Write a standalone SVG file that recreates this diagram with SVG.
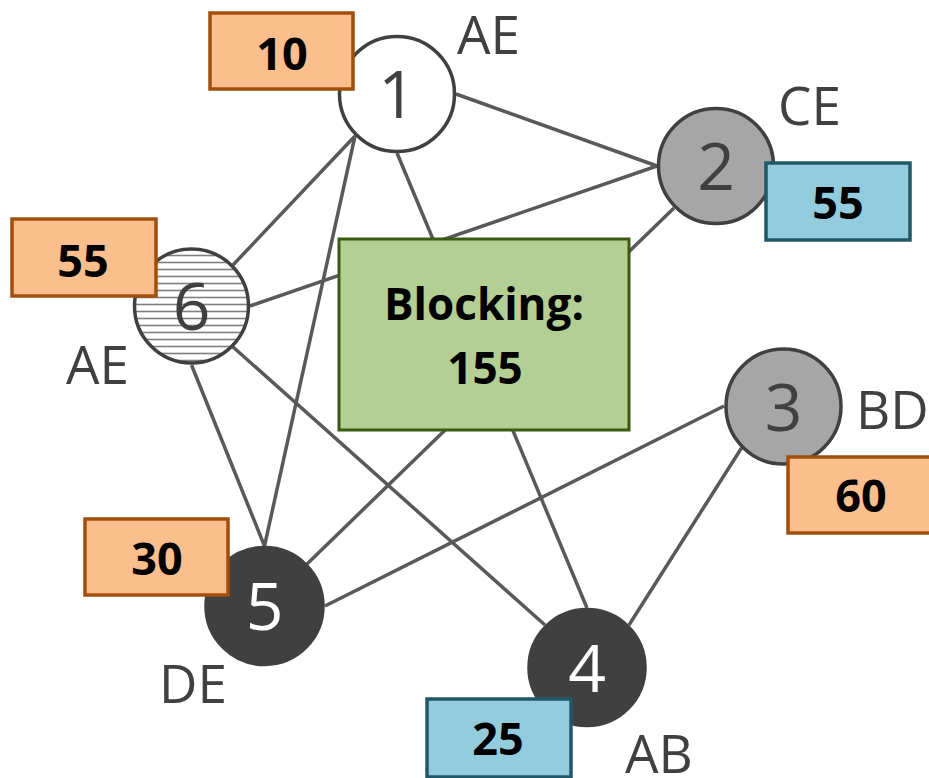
<svg xmlns="http://www.w3.org/2000/svg" width="929" height="778" viewBox="0 0 929 778">
<defs>
<pattern id="hatch" patternUnits="userSpaceOnUse" x="0" y="0" width="10" height="7">
<rect width="10" height="7" fill="#ffffff"/>
<line x1="0" y1="3.5" x2="10" y2="3.5" stroke="#7f7f7f" stroke-width="1.6"/>
</pattern>
<style>
.edge{stroke:#595959;stroke-width:3.5;fill:none}
.node{stroke:#404040;stroke-width:3.5}
.num{font-family:"Open Sans","Noto Sans",sans-serif;font-size:66px;text-anchor:middle}
.lbl{font-family:"Open Sans","Noto Sans",sans-serif;font-size:53px;fill:#404040}
.ob{fill:#fbbf8d;stroke:#a14f0c;stroke-width:3.5}
.bb{fill:#93cddd;stroke:#215868;stroke-width:3.5}
.bt{font-family:"Open Sans","Noto Sans",sans-serif;font-size:45px;font-weight:bold;fill:#000;text-anchor:middle}
</style>
</defs>
<g id="connectors">
<line class="edge" x1="397" y1="153" x2="587" y2="608"/>
<line class="edge" x1="657" y1="166" x2="250" y2="306"/>
<line class="edge" x1="674" y1="208" x2="307" y2="564"/>
<line class="edge" x1="355" y1="136" x2="233" y2="265"/>
<line class="edge" x1="355" y1="136" x2="264.5" y2="546"/>
<line class="edge" x1="456" y1="94" x2="657" y2="166"/>
<line class="edge" x1="191.5" y1="365" x2="264.5" y2="546"/>
<line class="edge" x1="233" y1="347" x2="545" y2="625"/>
<line class="edge" x1="724" y1="406" x2="325" y2="606"/>
<line class="edge" x1="741.5" y1="448" x2="629" y2="625"/>
</g>
<g id="blocking">
<rect x="339" y="239" width="290" height="191" fill="#b3cf93" stroke="#3c5a14" stroke-width="3"/>
<text class="bt" x="484" y="320" style="font-size:44px">Blocking:</text>
<text class="bt" x="485" y="384" style="font-size:44px">155</text>
</g>
<g id="node1">
<circle class="node" cx="397" cy="94" r="57.5" fill="#ffffff"/>
<text class="num" x="397" y="118" fill="#404040">1</text>
<text class="lbl" x="457" y="54">AE</text>
<rect class="ob" x="210" y="13" width="143" height="76"/>
<text class="bt" x="282" y="70">10</text>
</g>
<g id="node2">
<circle class="node" cx="716" cy="166" r="57.5" fill="#a6a6a6"/>
<text class="num" x="716" y="190" fill="#404040">2</text>
<text class="lbl" x="778" y="125">CE</text>
<rect class="bb" x="766" y="163" width="144" height="77"/>
<text class="bt" x="838" y="219">55</text>
</g>
<g id="node3">
<circle class="node" cx="783.5" cy="406.5" r="57.5" fill="#a6a6a6"/>
<text class="num" x="783.5" y="430.5" fill="#404040">3</text>
<text class="lbl" x="856" y="429">BD</text>
<rect class="ob" x="788" y="457" width="146" height="76"/>
<text class="bt" x="861" y="512">60</text>
</g>
<g id="node4">
<circle class="node" cx="587" cy="667.5" r="58" fill="#404040"/>
<text class="num" x="587" y="691.5" fill="#ffffff">4</text>
<text class="lbl" x="625" y="773">AB</text>
<rect class="bb" x="427" y="699" width="144" height="78"/>
<text class="bt" x="498" y="755">25</text>
</g>
<g id="node5">
<circle class="node" cx="264.5" cy="606" r="58.5" fill="#404040"/>
<text class="num" x="264.5" y="630" fill="#ffffff">5</text>
<text class="lbl" x="159" y="703">DE</text>
<rect class="ob" x="85" y="519" width="143" height="76"/>
<text class="bt" x="157" y="575">30</text>
</g>
<g id="node6">
<circle class="node" cx="191.5" cy="306" r="57" fill="url(#hatch)"/>
<text class="num" x="191.5" y="330" fill="#404040">6</text>
<text class="lbl" x="66" y="384">AE</text>
<rect class="ob" x="12" y="219" width="144" height="77"/>
<text class="bt" x="83" y="277">55</text>
</g>
</svg>
